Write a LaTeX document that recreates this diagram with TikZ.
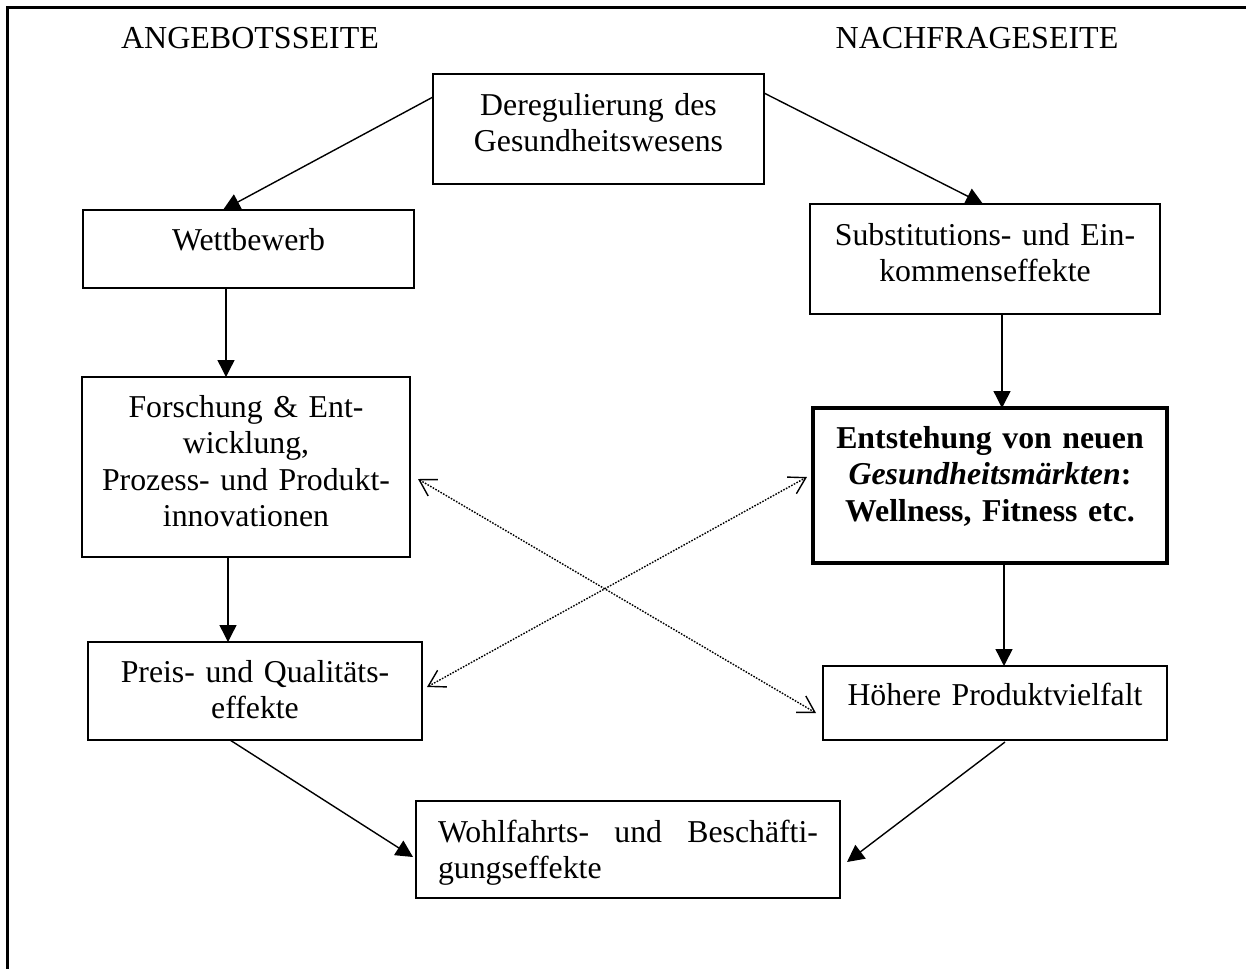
\documentclass[tikz,border=0pt]{standalone}
\usepackage{fontspec}
\setmainfont{Liberation Serif}
\usetikzlibrary{arrows.meta,calc}

\begin{document}
\begin{tikzpicture}[x=0.5pt,y=-0.5pt,
  box/.style={draw,rectangle,line width=0.85pt,inner sep=0pt,outer sep=0pt},
  keybox/.style={box,line width=2pt},
  boxtext/.style={anchor=base,inner sep=0pt,outer sep=0pt,align=center,
    font=\fontsize{15.9}{18.3}\selectfont},
  headtext/.style={anchor=base,inner sep=0pt,font=\fontsize{16}{18}\selectfont},
  flow/.style={line width=0.7pt,-{Triangle[length=8.5pt,width=8.5pt]}},
  link/.style={line width=0.7pt,dash pattern=on 0.8pt off 0.7pt,
    {Straight Barb[length=8pt,width=9.5pt,line width=0.7pt]}-{Straight Barb[length=8pt,width=9.5pt,line width=0.7pt]}}]

\useasboundingbox (0,0) rectangle (1246,969);

% frame (top and left edges only)
\draw[line width=1.1pt] (1246,7.5) -- (7.5,7.5) -- (7.5,969);

% column headings
\node[headtext] (angebot) at (250,48) {ANGEBOTSSEITE};
\node[headtext] (nachfrage) at (977,48) {NACHFRAGESEITE};

% boxes
\node[box, minimum width=165.5pt, minimum height=55pt]   (dereg) at (598.5,129) {};
\node[box, minimum width=165.5pt, minimum height=39pt]   (wett)  at (248.5,249) {};
\node[box, minimum width=175pt,   minimum height=55pt]   (subst) at (985,259) {};
\node[box, minimum width=164pt,   minimum height=90pt]   (fue)   at (246,467) {};
\node[keybox, minimum width=177pt, minimum height=77.5pt] (neu)  at (990,485.5) {};
\node[box, minimum width=167pt,   minimum height=49pt]   (preis) at (255,691) {};
\node[box, minimum width=172pt,   minimum height=37pt]   (hoeh)  at (995,703) {};
\node[box, minimum width=212pt,   minimum height=48.5pt] (wohl)  at (628,849.5) {};

% box texts
\node[boxtext, text width=160pt] (dereg-t) at ($(dereg.north)+(0,41)$)
  {Deregulierung des\\Gesundheitswesens};
\node[boxtext, text width=160pt] (wett-t) at ($(wett.north)+(0,40)$) {Wettbewerb};
\node[boxtext, text width=170pt] (subst-t) at ($(subst.north)+(0,41)$)
  {Substitutions- und Ein-\\kommenseffekte};
\node[boxtext, text width=160pt] (fue-t) at ($(fue.north)+(0,40)$)
  {Forschung \& Ent-\\wicklung,\\Prozess- und Produkt-\\innovationen};
\node[boxtext, text width=170pt] (neu-t) at ($(neu.north)+(0,40)$)
  {\textbf{Entstehung von neuen}\\\textbf{\textit{Gesundheitsmärkten}:}\\\textbf{Wellness, Fitness etc.}};
\node[boxtext, text width=162pt] (preis-t) at ($(preis.north)+(0,40)$)
  {Preis- und Qualitäts-\\effekte};
\node[boxtext, text width=168pt] (hoeh-t) at ($(hoeh.north)+(0,39)$)
  {Höhere Produktvielfalt};
\node[boxtext, text width=190pt, align=left] (wohl-t) at ($(wohl.north)+(0,41)$)
  {\leavevmode\hbox to 190pt{Wohlfahrts-\hfill und\hfill Beschäfti-}\\gungseffekte};

% solid connectors
\draw[flow] ($(dereg.west)+(0,-32)$) -- ($(wett.north)+(-25.5,0)$);
\draw[flow] ($(dereg.east)+(0,-36)$) -- ($(subst.north)+(-2,0)$);

\coordinate (wett-out) at ($(wett.south)+(-22.5,0)$);
\draw[flow] (wett-out) -- (wett-out |- fue.north);
\coordinate (subst-out) at ($(subst.south)+(17,0)$);
\draw[flow] (subst-out) -- (subst-out |- neu.north);
\coordinate (fue-out) at ($(fue.south)+(-18,0)$);
\draw[flow] (fue-out) -- (fue-out |- preis.north);
\coordinate (neu-out) at ($(neu.south)+(14,0)$);
\draw[flow] (neu-out) -- (neu-out |- hoeh.north);

\draw[flow] ($(preis.south)+(-25,0)$) -- ($(wohl.west)+(-3,7.5)$);
\draw[flow] ($(hoeh.south)+(10,2)$) -- ($(wohl.east)+(7,12.5)$);

% dotted cross links
\draw[link] ($(fue.east)+(8,12)$) -- ($(hoeh.west)+(-7,10)$);
\draw[link] ($(preis.east)+(5,-4)$) -- ($(neu.west)+(-6,-8.5)$);
\end{tikzpicture}
\end{document}
